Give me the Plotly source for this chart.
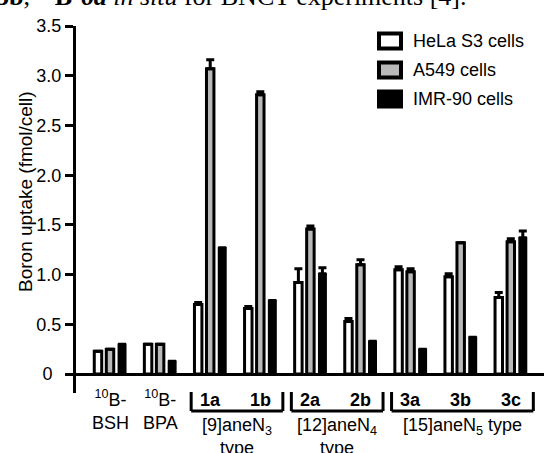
import plotly.graph_objects as go

# ---- data ----
categories = ["BSH", "BPA", "1a", "1b", "2a", "2b", "3a", "3b", "3c"]
cat_labels = ["<sup>10</sup>B-<br>BSH", "<sup>10</sup>B-<br>BPA",
              "<b>1a</b>", "<b>1b</b>", "<b>2a</b>", "<b>2b</b>",
              "<b>3a</b>", "<b>3b</b>", "<b>3c</b>"]
series_names = ["HeLa S3 cells", "A549 cells", "IMR-90 cells"]
hela = [0.23, 0.30, 0.70, 0.66, 0.92, 0.53, 1.05, 0.98, 0.77]
hela_err = [None, None, 0.02, 0.02, 0.14, 0.03, 0.03, 0.03, 0.05]
a549 = [0.25, 0.30, 3.07, 2.81, 1.46, 1.10, 1.03, 1.32, 1.33]
a549_err = [None, None, 0.09, 0.03, 0.03, 0.05, 0.03, None, 0.03]
imr90 = [0.30, 0.13, 1.27, 0.74, 1.01, 0.33, 0.25, 0.37, 1.37]
imr90_err = [None, None, None, None, 0.06, None, None, None, 0.07]
groups = [("[9]aneN<sub>3</sub><br>type", "1a", "1b"),
          ("[12]aneN<sub>4</sub><br>type", "2a", "2b"),
          ("[15]aneN<sub>5</sub> type", "3a", "3c")]
y_ticks = [0, 0.5, 1.0, 1.5, 2.0, 2.5, 3.0, 3.5]
y_ticktext = ["0\u2002", "0.5", "1.0", "1.5", "2.0", "2.5", "3.0", "3.5"]
y_title = "Boron uptake (fmol/cell)"
caption = "<b>5b</b>, <sup>10</sup><b>B-<i>6a</i></b> <i>in situ</i> for BNCT experiments [4]."

W, H = 544, 453
ML, MR, MT, MB = 76, 0, 26, 60
PW, PH = W - ML - MR, H - MT - MB


def px_x(px):
    return (px - ML) / PW


def px_y(py):
    return (H - MB - py) / PH


FONT = "Liberation Sans, Arial, sans-serif"
fills = ["white", "#b9b9b9", "black"]
values = [hela, a549, imr90]
errs = [hela_err, a549_err, imr90_err]
line_w = [3, 3, 1.5]

fig = go.Figure()
for name, v, e, fc, lw in zip(series_names, values, errs, fills, line_w):
    fig.add_trace(go.Bar(
        x=categories, y=v, name=name,
        marker=dict(color=fc, line=dict(color="black", width=lw)),
        error_y=dict(type="data", array=e, arrayminus=[0] * len(e), symmetric=False,
                     color="black", thickness=3, width=4),
        showlegend=False,
    ))

annotations = []
shapes = []

# category labels
for c, lab in zip(categories, cat_labels):
    if "<br>" in lab:
        annotations.append(dict(x=c, xref="x", y=px_y(385), yref="paper", text=lab,
                                showarrow=False, xanchor="center", yanchor="top",
                                font=dict(family=FONT, size=18, color="black")))
    else:
        annotations.append(dict(x=c, xref="x", y=px_y(400), yref="paper", text=lab,
                                showarrow=False, xanchor="center", yanchor="middle",
                                font=dict(family=FONT, size=18, color="black")))

# group brackets
idx = {c: i for i, c in enumerate(categories)}
for text, a, b in groups:
    x0 = idx[a] - 0.38
    x1 = idx[b] + 0.45
    ytop, ybot = px_y(392), px_y(411)
    for xa, ya, xb, yb in [(x0, ytop, x0, ybot), (x0, ybot, x1, ybot), (x1, ybot, x1, ytop)]:
        shapes.append(dict(type="line", xref="x", yref="paper", x0=xa, y0=ya, x1=xb, y1=yb,
                           line=dict(color="black", width=3)))
    annotations.append(dict(x=(x0 + x1) / 2, xref="x", y=px_y(413), yref="paper", text=text,
                            showarrow=False, xanchor="center", yanchor="top",
                            font=dict(family=FONT, size=18, color="black")))

# legend (manual)
leg_y = [41, 70, 99]
for name, fc, cy in zip(series_names, fills, leg_y):
    shapes.append(dict(type="rect", xref="paper", yref="paper",
                       x0=px_x(379), x1=px_x(401), y0=px_y(cy - 7.5), y1=px_y(cy + 7.5),
                       fillcolor=fc, line=dict(color="black", width=4)))
    annotations.append(dict(x=px_x(411), xref="paper", y=px_y(cy), yref="paper", text=name,
                            showarrow=False, xanchor="left", yanchor="middle",
                            font=dict(family=FONT, size=18, color="black")))

# y title
annotations.append(dict(x=px_x(25), xref="paper", y=px_y(192), yref="paper", text=y_title,
                        textangle=-90, showarrow=False, xanchor="center", yanchor="middle",
                        font=dict(family=FONT, size=19, color="black")))

# cut-off caption line at very top
annotations.append(dict(x=px_x(-6), xref="paper", y=px_y(-5), yref="paper", text=caption,
                        showarrow=False, xanchor="left", yanchor="middle",
                        font=dict(family="Liberation Serif, Times New Roman, serif", size=26,
                                  color="black")))

fig.update_layout(
    width=W, height=H,
    margin=dict(l=ML, r=MR, t=MT, b=MB),
    paper_bgcolor="white", plot_bgcolor="white",
    barmode="group", bargap=0.28, bargroupgap=0.38,
    showlegend=False,
    annotations=annotations, shapes=shapes,
    xaxis=dict(type="category", range=[-0.679, 8.663], showticklabels=False,
               showline=False, showgrid=False, zeroline=False, ticks=""),
    yaxis=dict(range=[-0.19, 3.5], tickvals=y_ticks, ticktext=y_ticktext,
               ticks="outside", ticklen=8, tickwidth=3, tickcolor="black",
               showline=True, linewidth=3, linecolor="black",
               zeroline=True, zerolinewidth=3, zerolinecolor="black",
               showgrid=False,
               tickfont=dict(family=FONT, size=18, color="black")),
)

fig.write_html("out.html")
